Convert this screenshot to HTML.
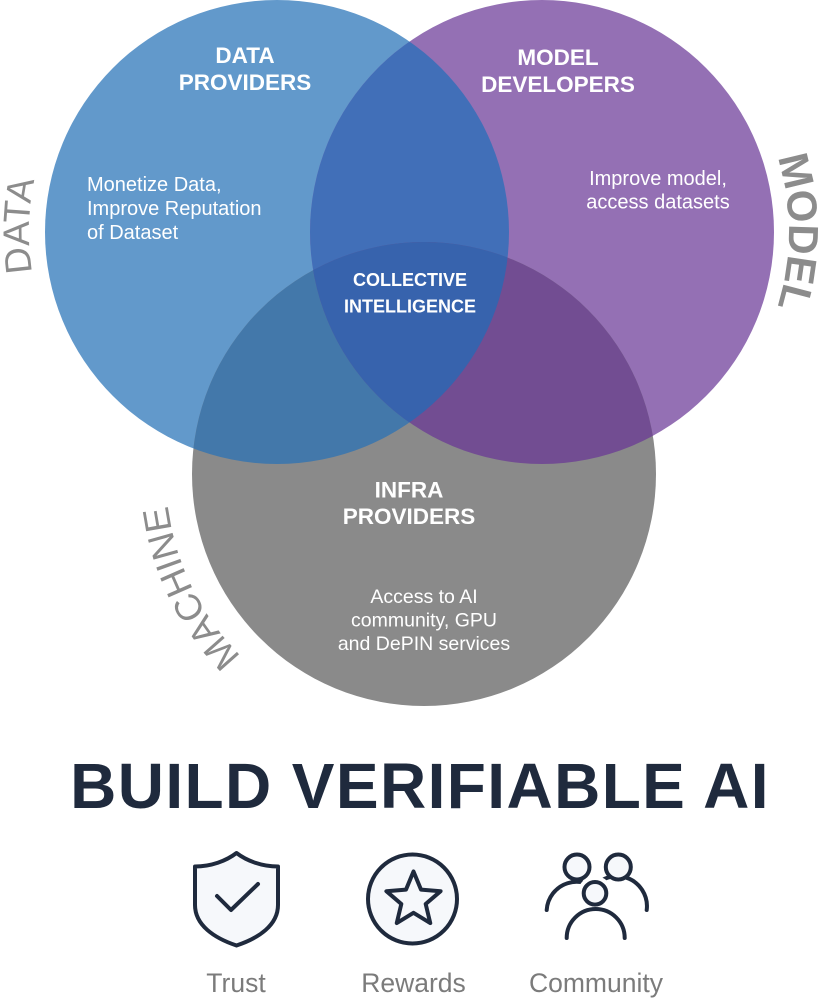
<!DOCTYPE html>
<html>
<head>
<meta charset="utf-8">
<style>
  html,body{margin:0;padding:0;background:#ffffff;}
  body{width:825px;height:998px;overflow:hidden;}
  svg{display:block;}
  text{font-family:"Liberation Sans", Arial, sans-serif;}
</style>
</head>
<body>
<svg width="825" height="998" viewBox="0 0 825 998" xmlns="http://www.w3.org/2000/svg">
  <defs>
    <clipPath id="cb"><circle cx="277" cy="232" r="232"/></clipPath>
    <clipPath id="cp"><circle cx="542" cy="232" r="232"/></clipPath>
    <path id="arcData" d="M 62.2 356 A 248 248 0 0 1 62.2 108"/>
    <path id="arcModel" d="M 755.8 108.5 A 247 247 0 0 1 755.8 355.5"/>
    <path id="arcMachine" d="M 295 697.4 A 258 258 0 0 1 169.9 429.2"/>
  </defs>

  <rect width="825" height="998" fill="#ffffff"/>

  <!-- Venn base circles -->
  <circle cx="277" cy="232" r="232" fill="#6299cb"/>
  <circle cx="542" cy="232" r="232" fill="#9470b4"/>
  <circle cx="424" cy="474" r="232" fill="#8a8a8a"/>

  <!-- Overlaps -->
  <circle cx="542" cy="232" r="232" fill="#416fb8" clip-path="url(#cb)"/>
  <circle cx="424" cy="474" r="232" fill="#4378aa" clip-path="url(#cb)"/>
  <circle cx="424" cy="474" r="232" fill="#724d92" clip-path="url(#cp)"/>
  <g clip-path="url(#cb)">
    <circle cx="424" cy="474" r="232" fill="#3763ad" clip-path="url(#cp)"/>
  </g>

  <!-- Curved outside labels -->
  <text font-size="37" fill="#8c8c8c" text-anchor="middle">
    <textPath href="#arcData" startOffset="52.3%">DATA</textPath>
  </text>
  <text font-size="42" font-weight="bold" fill="#8c8c8c" text-anchor="middle">
    <textPath href="#arcModel" startOffset="50%">MODEL</textPath>
  </text>
  <text font-size="37" fill="#8c8c8c" text-anchor="middle">
    <textPath href="#arcMachine" startOffset="48.6%">MACHINE</textPath>
  </text>

  <!-- Inner labels -->
  <g fill="#ffffff" font-weight="bold" font-size="22.5" text-anchor="middle">
    <text x="245" y="63">DATA</text>
    <text x="245" y="90">PROVIDERS</text>
    <text x="558" y="65">MODEL</text>
    <text x="558" y="92">DEVELOPERS</text>
    <text x="409" y="497.5">INFRA</text>
    <text x="409" y="524">PROVIDERS</text>
  </g>
  <g fill="#ffffff" font-weight="bold" font-size="18" text-anchor="middle">
    <text x="410" y="286">COLLECTIVE</text>
    <text x="410" y="312.5">INTELLIGENCE</text>
  </g>
  <g fill="#ffffff" font-size="20">
    <text x="87" y="191">Monetize Data,</text>
    <text x="87" y="215">Improve Reputation</text>
    <text x="87" y="239">of Dataset</text>
  </g>
  <g fill="#ffffff" font-size="20" text-anchor="middle">
    <text x="658" y="185">Improve model,</text>
    <text x="658" y="208.5">access datasets</text>
  </g>
  <g fill="#ffffff" font-size="19.5" text-anchor="middle">
    <text x="424" y="603">Access to AI</text>
    <text x="424" y="626.5">community, GPU</text>
    <text x="424" y="650">and DePIN services</text>
  </g>

  <!-- Title -->
  <text x="420" y="808" font-size="64" font-weight="bold" fill="#1f2a3d" text-anchor="middle" letter-spacing="1.4">BUILD VERIFIABLE AI</text>

  <!-- Icons -->
  <g stroke="#1f2a3d" stroke-width="4" fill="#f6f8fb" stroke-linecap="round" stroke-linejoin="round">
    <!-- Shield -->
    <path d="M236.5,853 C226,861 211,866.5 195,866.5 L195,905 C195,925 214,938 236.5,945.5 C259,938 278,925 278,905 L278,866.5 C262,866.5 247,861 236.5,853 Z"/>
    <path d="M217,896 L231,910 L258,884" fill="none"/>

    <!-- Star in circle -->
    <circle cx="412.5" cy="899" r="44.5"/>
    <path transform="translate(413.5,900)" d="M0,-28.5 L7.52,-10.36 L27.1,-8.8 L12.17,3.96 L16.75,23.06 L0,12.8 L-16.75,23.06 L-12.17,3.96 L-27.1,-8.8 L-7.52,-10.36 Z"/>

    <!-- Community -->
    <path d="M546.7,910 A30,30 0 0 1 600,893" fill="none"/>
    <path d="M646.7,910 A30,30 0 0 0 590,893" fill="none"/>
    <circle cx="577" cy="867" r="12.5"/>
    <circle cx="618.3" cy="867" r="12.5"/>
    <circle cx="595" cy="893.3" r="11.3" stroke="#ffffff" stroke-width="12"/>
    <circle cx="595" cy="893.3" r="11.3"/>
    <path d="M566.7,938 A29,29 0 0 1 624.7,938" fill="none"/>
  </g>

  <!-- Icon labels -->
  <g fill="#7b7b7b" font-size="26.5" text-anchor="middle">
    <text x="236" y="992">Trust</text>
    <text x="413.5" y="992">Rewards</text>
    <text x="596" y="992">Community</text>
  </g>
</svg>
</body>
</html>
